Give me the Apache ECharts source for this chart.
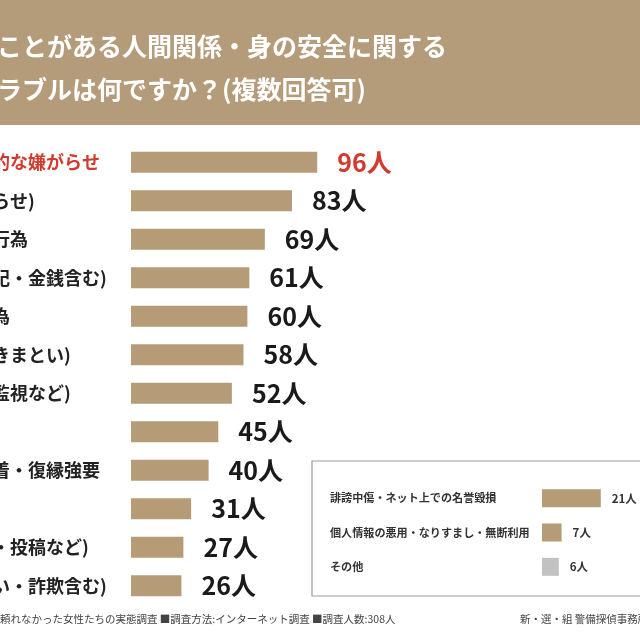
<!DOCTYPE html>
<html>
<head>
<meta charset="utf-8">
<script src="https://cdn.jsdelivr.net/npm/echarts@6/dist/echarts.min.js"></script>
<style>
  html, body { margin: 0; padding: 0; background: #fff; }
  #chart { width: 640px; height: 640px; }
</style>
</head>
<body>
<div id="chart"></div>
<script>
// 画像で見えている部分のラベル（左側は切れている）
const rowLabels = ['的な嫌がらせ', 'らせ)', '行為', '記・金銭含む)', '為', 'きまとい)', '監視など)', '', '着・復縁強要', '', '・投稿など)', 'い・詐欺含む)'];
const rowValues = [96, 83, 69, 61, 60, 58, 52, 45, 40, 31, 27, 26];

const subLabels = ['誹謗中傷・ネット上での名誉毀損', '個人情報の悪用・なりすまし・無断利用', 'その他'];
const subValues = [21, 7, 6];
const subColors = ['#b59c77', '#b59c77', '#c2c2c2'];

const titleLines = ['ことがある人間関係・身の安全に関する', 'ラブルは何ですか？(複数回答可)'];
const footerText = '頼れなかった女性たちの実態調査 ■調査方法:インターネット調査 ■調査人数:308人';
const creditText = '新・選・組 警備探偵事務所';

const tan = '#b59c77';
const red = '#d23a2e';
const font = '"Noto Sans CJK JP", "Noto Sans", sans-serif';

const myChart = echarts.init(document.getElementById('chart'));

const option = {
  backgroundColor: '#fff',
  textStyle: { fontFamily: font },
  animation: false,
  graphic: [
    { type: 'rect', z: 0, shape: { x: 0, y: 0, width: 640, height: 125 }, style: { fill: '#b49c7a' } },
    { type: 'text', z: 5, left: -3, top: 25, style: { text: titleLines.join('\n'), fill: '#fff', font: 'bold 25px ' + font, lineHeight: 43 } },
    { type: 'rect', z: 0, shape: { x: 312, y: 461, width: 340, height: 135 }, style: { fill: 'none', stroke: '#999', lineWidth: 1.2 } },
    { type: 'text', left: 0, top: 614, style: { text: footerText, fill: '#444', font: '10.5px ' + font } },
    { type: 'text', left: 520, top: 614, style: { text: creditText, fill: '#444', font: '10.5px ' + font } }
  ],
  grid: [
    { left: 131, right: 315, top: 143, bottom: 35, outerBoundsMode: 'none', containLabel: false },
    { left: 542, right: 14, top: 481, bottom: 56, outerBoundsMode: 'none', containLabel: false }
  ],
  xAxis: [
    { gridIndex: 0, type: 'value', min: 0, max: 100, show: false },
    { gridIndex: 1, type: 'value', min: 0, max: 30, show: false }
  ],
  yAxis: [
    {
      gridIndex: 0, type: 'category', inverse: true, data: rowLabels,
      axisLine: { show: false }, axisTick: { show: false },
      axisLabel: {
        align: 'left', margin: 139, fontSize: 18, fontWeight: 'bold', color: '#222',
        formatter: (v, i) => i === 0 ? '{r|' + rowLabels[i] + '}' : rowLabels[i],
        rich: { r: { color: red, fontSize: 18, fontWeight: 'bold' } }
      }
    },
    {
      gridIndex: 1, type: 'category', inverse: true, data: subLabels,
      axisLine: { show: false }, axisTick: { show: false },
      axisLabel: { align: 'left', margin: 212, fontSize: 11.1, fontWeight: 'bold', color: '#333' }
    }
  ],
  series: [
    {
      type: 'bar', xAxisIndex: 0, yAxisIndex: 0, barWidth: 21,
      data: rowValues.map((v, i) => ({
        value: v,
        label: i === 0 ? { color: red } : {}
      })),
      itemStyle: { color: tan },
      label: {
        show: true, position: 'right', distance: 20, formatter: '{c}人',
        fontSize: 25, fontWeight: 'bold', color: '#1a1a1a'
      }
    },
    {
      type: 'bar', xAxisIndex: 1, yAxisIndex: 1, barWidth: 18,
      data: subValues.map((v, i) => ({ value: v, itemStyle: { color: subColors[i] } })),
      label: {
        show: true, position: 'right', distance: 11, formatter: '{c}人',
        fontSize: 11.5, fontWeight: 'bold', color: '#333'
      }
    }
  ]
};

option && myChart.setOption(option);
</script>
</body>
</html>
